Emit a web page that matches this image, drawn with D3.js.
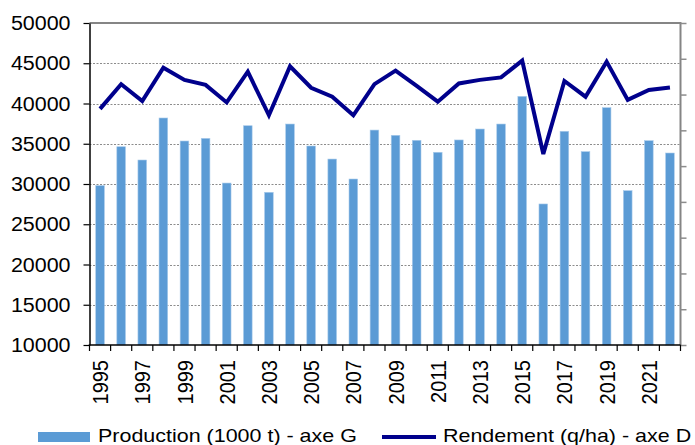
<!DOCTYPE html>
<html>
<head>
<meta charset="utf-8">
<script src="https://cdn.jsdelivr.net/npm/d3@7"></script>
<style>
  body { margin: 0; background: #fff; }
  svg { display: block; font-family: "Liberation Sans", Arial, sans-serif; }
</style>
</head>
<body>
<svg id="chart" width="695" height="445"></svg>
<script>
// data
var years = d3.range(1995, 2023);
var production = [29800, 34630, 32980, 38200, 35340, 35670, 30120, 37240, 28970, 37450,
                  34720, 33100, 30620, 36700, 36050, 35430, 33940, 35470, 36830, 37450,
                  40890, 27520, 36550, 34020, 39480, 29170, 35380, 33850];
var rendement = [66.0, 72.9, 68.2, 77.5, 74.1, 72.7, 67.8, 76.4, 64.2, 77.9,
                 71.9, 69.4, 64.2, 72.9, 76.7, 72.4, 68.0, 73.1, 74.1, 74.8,
                 79.5, 53.4, 73.8, 69.4, 79.2, 68.5, 71.3, 72.0];
var leftTicks = d3.range(10000, 50001, 5000);
var rightTicks = d3.range(0, 91, 10);
var xLabels = years.filter(function(y) { return (y - 1995) % 2 === 0; });
var seriesNames = ["Production (1000 t) - axe G", "Rendement (q/ha) - axe D"];

var L = 89.5, R = 680.5, T = 23, B = 345;
var SX = 1.1; // text in the picture is a bit wider than tall

var svg = d3.select("#chart");

var x = d3.scaleBand().domain(years).range([L, R]);
var yL = d3.scaleLinear().domain([10000, 50000]).range([B, T]);
var yR = d3.scaleLinear().domain([0, 90]).range([B, T]);

// gridlines
svg.append("g").selectAll("line")
  .data(leftTicks.filter(function(d) { return d > 10000 && d < 50000; }))
  .enter().append("line")
    .attr("x1", L).attr("x2", R)
    .attr("y1", function(d) { return Math.round(yL(d)) + 0.5; })
    .attr("y2", function(d) { return Math.round(yL(d)) + 0.5; })
    .attr("stroke", "#8c8c8c").attr("stroke-width", 1)
    .attr("stroke-dasharray", "2,1.5");

// top + right frame (grey)
svg.append("path")
  .attr("d", "M" + L + "," + T + "H" + R + "V" + B)
  .attr("fill", "none").attr("stroke", "#858585").attr("stroke-width", 2);

// bars
var bw = x.bandwidth() * 0.41;
svg.append("g").selectAll("rect")
  .data(production)
  .enter().append("rect")
    .attr("x", function(d, i) { return x(years[i]) + x.bandwidth() / 2 - bw / 2; })
    .attr("y", function(d) { return yL(d); })
    .attr("width", bw)
    .attr("height", function(d) { return B - yL(d); })
    .attr("fill", "#5b9bd5")
    .attr("stroke", "#a9cbeb").attr("stroke-width", 0.6);

// right axis, ticks only
var rAxis = svg.append("g").attr("transform", "translate(" + R + ",0)")
  .call(d3.axisRight(yR).tickValues(rightTicks).tickSize(6).tickFormat(""));
rAxis.select(".domain").remove();
rAxis.selectAll("line").attr("stroke", "#8c8c8c").attr("stroke-width", 1.5);

// left axis
var lAxis = svg.append("g").attr("transform", "translate(" + L + ",0)")
  .call(d3.axisLeft(yL).tickValues(leftTicks).tickSize(6).tickSizeOuter(0).tickFormat(""));
lAxis.select(".domain").attr("stroke", "#000").attr("stroke-width", 1.5);
lAxis.selectAll("line").attr("stroke", "#000").attr("stroke-width", 1.2);

svg.append("g").selectAll("g")
  .data(leftTicks)
  .enter().append("g")
    .attr("transform", function(d) { return "translate(70.5," + yL(d) + ") scale(" + SX + ",1)"; })
  .append("text")
    .attr("text-anchor", "end").attr("dy", "0.36em")
    .attr("font-size", "19.5px").attr("fill", "#000")
    .text(function(d) { return d; });

// bottom axis
var bAxis = svg.append("g").attr("transform", "translate(0," + B + ")");
bAxis.append("line").attr("x1", L - 0.75).attr("x2", R).attr("stroke", "#000").attr("stroke-width", 1.5);
bAxis.selectAll(".tk")
  .data(years.concat([2023]))
  .enter().append("line")
    .attr("class", "tk")
    .attr("x1", function(d, i) { return i < years.length ? x(d) : R; })
    .attr("x2", function(d, i) { return i < years.length ? x(d) : R; })
    .attr("y1", 0).attr("y2", 6)
    .attr("stroke", "#000").attr("stroke-width", 1.2);

bAxis.selectAll("g.lbl")
  .data(xLabels)
  .enter().append("g")
    .attr("class", "lbl")
    .attr("transform", function(d) {
      return "translate(" + (x(d) + x.bandwidth() / 2) + ",15) scale(" + 1.12 + ",1) rotate(-90)";
    })
  .append("text")
    .attr("text-anchor", "end").attr("dy", "0.36em")
    .attr("font-size", "20px").attr("fill", "#000")
    .text(function(d) { return d; });

// yield line
var line = d3.line()
  .x(function(d, i) { return x(years[i]) + x.bandwidth() / 2; })
  .y(function(d) { return yR(d); });
svg.append("path")
  .datum(rendement)
  .attr("d", line)
  .attr("fill", "none")
  .attr("stroke", "#00008c")
  .attr("stroke-width", 4)
  .attr("stroke-linejoin", "miter");

// legend
var lg = svg.append("g");
lg.append("rect").attr("x", 38).attr("y", 432).attr("width", 52).attr("height", 10).attr("fill", "#5b9bd5");
lg.append("g").attr("transform", "translate(98,442) scale(1.13,1)")
  .append("text").attr("font-size", "19px").text(seriesNames[0]);
lg.append("line").attr("x1", 382).attr("x2", 436).attr("y1", 437).attr("y2", 437)
  .attr("stroke", "#00008c").attr("stroke-width", 4);
lg.append("g").attr("transform", "translate(443,442) scale(1.13,1)")
  .append("text").attr("font-size", "19px").text(seriesNames[1]);
</script>
</body>
</html>
